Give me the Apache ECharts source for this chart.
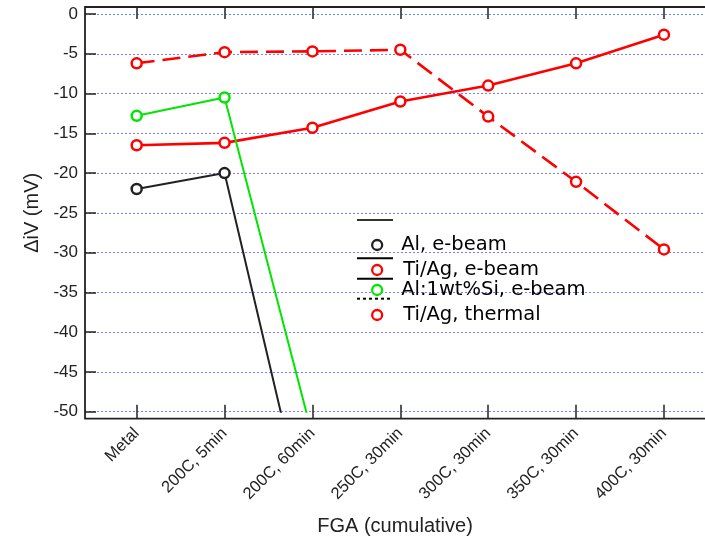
<!DOCTYPE html>
<html>
<head>
<meta charset="utf-8">
<script src="https://cdn.jsdelivr.net/npm/echarts@6/dist/echarts.min.js"></script>
<style>html,body{margin:0;padding:0;background:#fff}#c{width:705px;height:542px}</style>
</head>
<body>
<div id="c"></div>
<script>
var categories = ['Metal', '200C, 5min', '200C, 60min', '250C, 30min', '300C, 30min', '350C, 30min', '400C, 30min'];
var yTicks = [0, -5, -10, -15, -20, -25, -30, -35, -40, -45, -50];
var alEbeam = [-22.0, -20.0, -67.0];
var tiagEbeam = [-16.5, -16.2, -14.3, -11.0, -9.0, -6.2, -2.6];
var alSiEbeam = [-12.8, -10.5, -53.0];
var tiagThermal = [-6.2, -4.8, -4.7, -4.5, -12.9, -21.1, -29.6];
var seriesNames = ['Al, e-beam', 'Ti/Ag, e-beam', 'Al:1wt%Si, e-beam', 'Ti/Ag, thermal'];

function pairs(arr) { return arr.map(function (v, i) { return [i, v]; }); }
var idx = categories.map(function (c, i) { return i; });

var colors = ['#222222', '#ff0000', '#00e600', '#ff0000'];
var widths = [2, 2.6, 2, 2.6];
var types = ['solid', 'solid', 'solid', [18, 8]];
var datas = [alEbeam, tiagEbeam, alSiEbeam, tiagThermal];
var legendY = [245, 270, 290, 315];
var legendTextX = [400, 402, 400, 402];

var chart = echarts.init(document.getElementById('c'), null, {renderer: 'canvas'});
var series = datas.map(function (d, k) {
  return {
    name: seriesNames[k], type: 'line', data: pairs(d),
    symbol: 'circle', symbolSize: 10, clip: true,
    color: colors[k],
    itemStyle: {color: '#ffffff', borderColor: colors[k], borderWidth: 2.5},
    lineStyle: {color: colors[k], width: widths[k], type: types[k]},
    emphasis: {disabled: true}, animation: false, z: 2 + k
  };
});
var legends = seriesNames.map(function (n, k) {
  return {
    data: [n], left: 371, top: legendY[k] - 10, padding: 0, orient: 'vertical',
    icon: 'circle', itemWidth: 10, itemHeight: 10, selectedMode: false,
    itemStyle: {color: '#ffffff', borderColor: colors[k], borderWidth: 2.3},
    lineStyle: {width: 0},
    textStyle: {fontFamily: 'DejaVu Sans', fontSize: 19.5, color: '#000', lineHeight: 20,
      padding: [0, 0, 0, legendTextX[k] - 386]}
  };
});
var ax = '#222222';
var option = {
  backgroundColor: '#ffffff',
  animation: false,
  grid: {left: 85, right: 0, top: 14, bottom: 130.3, containLabel: false},
  legend: legends,
  xAxis: [{
    type: 'value', min: -0.588, max: 6.467, position: 'bottom', offset: 7,
    axisLine: {show: false, onZero: false}, splitLine: {show: false},
    axisTick: {show: true, inside: true, length: 14, customValues: idx, lineStyle: {color: ax, width: 1.5}},
    axisLabel: {customValues: idx, rotate: 45, margin: 12, fontFamily: 'Liberation Sans', fontSize: 16.5, color: '#222',
      formatter: function (v) { return categories[Math.round(v)] || ''; }},
    name: 'FGA (cumulative)', nameLocation: 'middle', nameGap: 98,
    nameTextStyle: {fontFamily: 'Liberation Sans', fontSize: 20, color: '#222'}
  }, {
    type: 'value', min: -0.588, max: 6.467, position: 'top', offset: 7,
    axisLine: {show: false, onZero: false}, splitLine: {show: false},
    axisTick: {show: true, inside: true, length: 12, customValues: idx, lineStyle: {color: ax, width: 1.5}},
    axisLabel: {show: false}
  }],
  yAxis: {
    type: 'value', min: -50, max: 0, interval: 5,
    axisLine: {show: false, onZero: false},
    axisTick: {show: true, inside: true, length: 11, lineStyle: {color: ax, width: 1.5}},
    splitLine: {show: true, lineStyle: {color: '#7b7bff', type: [2, 2], width: 1}},
    axisLabel: {margin: 7, fontFamily: 'Liberation Sans', fontSize: 17, color: '#222',
      formatter: function (v) { return yTicks.indexOf(v) >= 0 ? String(v) : ''; }},
    name: 'ΔiV (mV)', nameLocation: 'middle', nameGap: 42,
    nameTextStyle: {fontFamily: 'Liberation Sans', fontSize: 20, color: '#222'}
  },
  series: series,
  graphic: [
    {type: 'rect', shape: {x: 85, y: 7, width: 700, height: 411.7}, style: {fill: 'none', stroke: ax, lineWidth: 1.8}, silent: true, z: 10},
    {type: 'line', shape: {x1: 357, y1: 220, x2: 393, y2: 220}, style: {stroke: '#333', lineWidth: 2}, silent: true},
    {type: 'line', shape: {x1: 357, y1: 258.3, x2: 393, y2: 258.3}, style: {stroke: '#000', lineWidth: 2}, silent: true},
    {type: 'line', shape: {x1: 357, y1: 278.7, x2: 393, y2: 278.7}, style: {stroke: '#000', lineWidth: 2}, silent: true},
    {type: 'line', shape: {x1: 357, y1: 298.7, x2: 393, y2: 298.7}, style: {stroke: '#000', lineWidth: 2, lineDash: [3, 3]}, silent: true}
  ]
};
chart.setOption(option);
</script>
</body>
</html>
